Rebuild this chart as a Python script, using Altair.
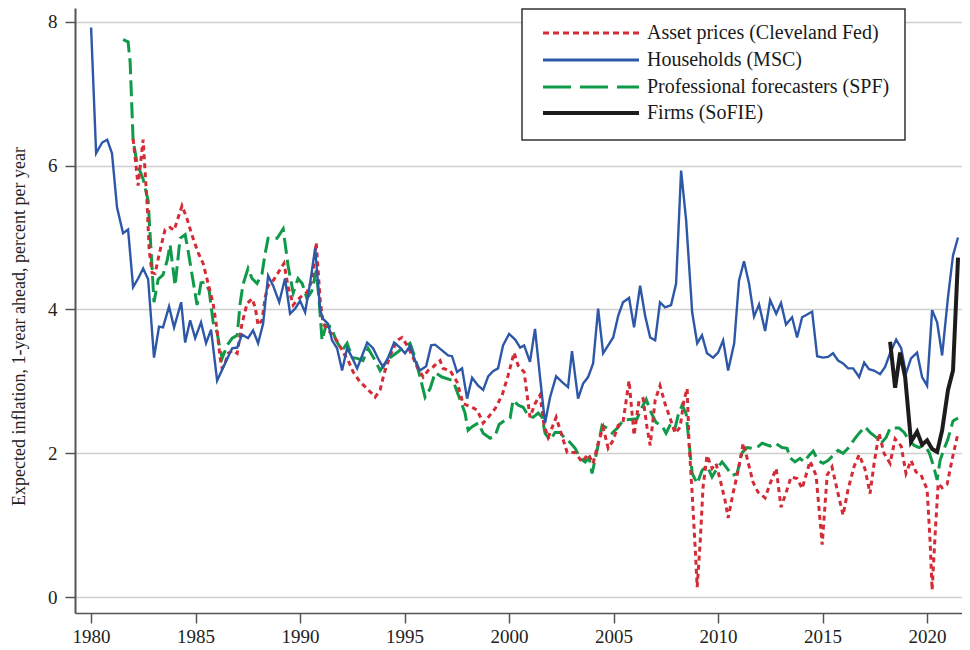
import altair as alt
import pandas as pd

# ---------------- data ----------------
hh_year = [1980.00, 1980.24, 1980.53, 1980.77, 1981.00, 1981.24, 1981.53, 1981.77, 1982.01, 1982.25,
           1982.49, 1982.73, 1983.01, 1983.25, 1983.44, 1983.73, 1983.97, 1984.31, 1984.50, 1984.74,
           1984.98, 1985.26, 1985.50, 1985.74, 1986.03, 1986.41, 1986.75, 1986.99, 1987.22, 1987.51,
           1987.75, 1987.99, 1988.23, 1988.47, 1988.71, 1989.00, 1989.28, 1989.52, 1989.76, 1990.00,
           1990.24, 1990.48, 1990.72, 1990.96, 1991.10, 1991.34, 1991.53, 1991.77, 1992.01, 1992.25,
           1992.49, 1992.73, 1992.97, 1993.21, 1993.49, 1993.78, 1993.97, 1994.21, 1994.50, 1994.78,
           1995.02, 1995.26, 1995.50, 1995.74, 1996.03, 1996.27, 1996.46, 1996.79, 1997.08, 1997.27,
           1997.51, 1997.75, 1997.99, 1998.23, 1998.52, 1998.76, 1999.00, 1999.23, 1999.47, 1999.71,
           2000.00, 2000.29, 2000.53, 2000.72, 2001.00, 2001.24, 2001.48, 2001.72, 2001.96, 2002.25,
           2002.54, 2002.82, 2003.01, 2003.30, 2003.54, 2003.78, 2004.02, 2004.26, 2004.50, 2004.74,
           2004.98, 2005.22, 2005.45, 2005.74, 2005.98, 2006.27, 2006.51, 2006.75, 2006.99, 2007.22,
           2007.46, 2007.75, 2007.99, 2008.23, 2008.47, 2008.76, 2009.00, 2009.23, 2009.47, 2009.76,
           2010.00, 2010.24, 2010.48, 2010.77, 2011.00, 2011.24, 2011.48, 2011.72, 2011.96, 2012.25,
           2012.49, 2012.78, 2013.01, 2013.25, 2013.54, 2013.78, 2014.02, 2014.26, 2014.50, 2014.74,
           2015.02, 2015.26, 2015.50, 2015.74, 2015.98, 2016.22, 2016.46, 2016.75, 2016.99, 2017.22,
           2017.46, 2017.75, 2017.99, 2018.23, 2018.52, 2018.76, 2018.99, 2019.23, 2019.52, 2019.76,
           2020.00, 2020.24, 2020.48, 2020.72, 2021.00, 2021.24, 2021.48]
hh_val = [7.92, 6.17, 6.32, 6.36, 6.17, 5.42, 5.06, 5.11, 4.31, 4.43,
          4.57, 4.42, 3.33, 3.76, 3.75, 4.04, 3.75, 4.10, 3.54, 3.85,
          3.60, 3.82, 3.53, 3.72, 3.01, 3.25, 3.46, 3.47, 3.65, 3.60,
          3.71, 3.53, 3.80, 4.47, 4.33, 4.10, 4.43, 3.94, 4.01, 4.12,
          3.96, 4.37, 4.85, 3.99, 3.87, 3.80, 3.57, 3.46, 3.15, 3.46,
          3.33, 3.18, 3.36, 3.54, 3.46, 3.29, 3.20, 3.33, 3.54, 3.47,
          3.39, 3.49, 3.29, 3.15, 3.21, 3.50, 3.51, 3.43, 3.36, 3.35,
          3.13, 3.18, 2.76, 3.05, 2.94, 2.88, 3.07, 3.14, 3.18, 3.50,
          3.66, 3.58, 3.47, 3.50, 3.27, 3.73, 3.06, 2.42, 2.78, 3.07,
          2.99, 2.92, 3.42, 2.76, 2.97, 3.06, 3.25, 4.01, 3.39, 3.50,
          3.61, 3.91, 4.10, 4.16, 3.75, 4.33, 3.91, 3.61, 3.57, 4.10,
          4.03, 4.06, 4.36, 5.93, 5.24, 3.96, 3.53, 3.64, 3.39, 3.33,
          3.40, 3.57, 3.15, 3.53, 4.40, 4.67, 4.36, 3.90, 4.07, 3.70,
          4.13, 3.94, 4.09, 3.79, 3.89, 3.61, 3.89, 3.93, 3.97, 3.35,
          3.33, 3.34, 3.39, 3.29, 3.25, 3.18, 3.18, 3.06, 3.26, 3.17,
          3.15, 3.10, 3.20, 3.39, 3.58, 3.46, 3.11, 3.32, 3.40, 3.06,
          2.94, 3.99, 3.82, 3.36, 4.17, 4.75, 5.00]

ap_year = [1982.01, 1982.25, 1982.49, 1982.68, 1982.78, 1982.92, 1983.06, 1983.30, 1983.54, 1983.78,
           1983.97, 1984.35, 1984.59, 1984.83, 1985.12, 1985.36, 1985.60, 1985.84, 1986.03, 1986.17,
           1986.27, 1986.41, 1986.56, 1986.79, 1986.99, 1987.22, 1987.46, 1987.70, 1987.85, 1987.99,
           1988.18, 1988.33, 1988.47, 1988.71, 1988.95, 1989.23, 1989.43, 1989.67, 1989.86, 1990.10,
           1990.33, 1990.57, 1990.77, 1990.96, 1991.10, 1991.34, 1991.58, 1991.82, 1992.06, 1992.30,
           1992.54, 1992.87, 1993.21, 1993.59, 1993.83, 1994.02, 1994.31, 1994.64, 1994.88, 1995.12,
           1995.36, 1995.60, 1995.89, 1996.12, 1996.36, 1996.70, 1996.84, 1997.18, 1997.51, 1997.80,
           1998.23, 1998.47, 1998.76, 1999.00, 1999.33, 1999.67, 1999.95, 2000.24, 2000.43, 2000.72,
           2001.00, 2001.24, 2001.48, 2001.67, 2001.87, 2002.06, 2002.25, 2002.49, 2002.78, 2003.16,
           2003.49, 2003.78, 2004.02, 2004.26, 2004.50, 2004.74, 2004.98, 2005.22, 2005.45, 2005.74,
           2005.98, 2006.22, 2006.41, 2006.60, 2006.75, 2006.99, 2007.22, 2007.46, 2007.70, 2007.94,
           2008.18, 2008.37, 2008.52, 2008.61, 2008.76, 2008.90, 2009.00, 2009.14, 2009.28, 2009.47,
           2009.71, 2009.90, 2010.10, 2010.33, 2010.48, 2010.72, 2010.96, 2011.20, 2011.39, 2011.67,
           2011.91, 2012.25, 2012.49, 2012.78, 2013.01, 2013.25, 2013.49, 2013.78, 2014.02, 2014.40,
           2014.69, 2014.98, 2015.22, 2015.45, 2015.74, 2015.98, 2016.22, 2016.51, 2016.75, 2017.03,
           2017.27, 2017.46, 2017.70, 2017.94, 2018.23, 2018.47, 2018.76, 2018.99, 2019.23, 2019.47,
           2019.71, 2020.00, 2020.14, 2020.24, 2020.38, 2020.53, 2020.72, 2020.96, 2021.20, 2021.48]
ap_val = [6.37, 5.72, 6.36, 5.47, 4.82, 4.51, 4.50, 4.82, 5.11, 5.14,
          5.10, 5.44, 5.26, 5.03, 4.79, 4.64, 4.36, 4.08, 3.71, 3.33,
          3.18, 3.25, 3.39, 3.43, 3.39, 3.80, 4.08, 4.15, 4.03, 3.78,
          3.85, 4.17, 4.33, 4.40, 4.51, 4.64, 4.31, 4.06, 4.13, 4.19,
          4.24, 4.40, 4.93, 4.13, 3.80, 3.71, 3.64, 3.54, 3.40, 3.29,
          3.13, 2.99, 2.90, 2.78, 2.88, 3.11, 3.36, 3.57, 3.61, 3.50,
          3.36, 3.20, 3.06, 3.15, 3.20, 3.29, 3.18, 3.15, 2.99, 2.69,
          2.64, 2.60, 2.42, 2.50, 2.62, 2.81, 3.08, 3.40, 3.22, 3.13,
          2.50, 2.69, 2.81, 2.39, 2.22, 2.36, 2.50, 2.28, 2.01, 2.01,
          1.88, 1.99, 1.86, 2.14, 2.36, 2.07, 2.18, 2.39, 2.43, 3.01,
          2.25, 2.74, 2.76, 2.36, 2.11, 2.74, 2.94, 2.69, 2.49, 2.28,
          2.36, 2.74, 2.90, 2.14, 1.44, 0.70, 0.14, 0.75, 1.53, 1.97,
          1.79, 1.86, 1.63, 1.35, 1.10, 1.45, 1.76, 2.14, 1.93, 1.60,
          1.46, 1.38, 1.58, 1.79, 1.25, 1.45, 1.67, 1.65, 1.51, 1.89,
          1.69, 0.73, 1.70, 1.81, 1.44, 1.14, 1.50, 1.82, 1.98, 1.78,
          1.44, 1.85, 2.28, 2.00, 1.86, 2.20, 2.10, 1.72, 1.90, 1.74,
          1.70, 1.50, 0.80, 0.10, 0.85, 1.58, 1.52, 1.57, 1.92, 2.28]

spf_year = [1981.53, 1981.77, 1981.87, 1982.01, 1982.20, 1982.49, 1982.73, 1982.92, 1983.01, 1983.21,
            1983.44, 1983.64, 1983.78, 1984.02, 1984.26, 1984.50, 1984.64, 1985.07, 1985.26, 1985.45,
            1985.65, 1985.84, 1986.03, 1986.12, 1986.27, 1986.51, 1986.75, 1986.99, 1987.13, 1987.27,
            1987.51, 1987.70, 1987.94, 1988.18, 1988.33, 1988.47, 1988.90, 1989.19, 1989.43, 1989.67,
            1989.90, 1990.10, 1990.33, 1990.57, 1990.77, 1990.91, 1991.05, 1991.24, 1991.48, 1991.72,
            1992.01, 1992.25, 1992.49, 1992.73, 1993.01, 1993.25, 1993.59, 1993.83, 1994.07, 1994.31,
            1994.64, 1994.93, 1995.26, 1995.50, 1995.74, 1995.98, 1996.22, 1996.46, 1996.79, 1997.32,
            1997.66, 1997.89, 1998.04, 1998.23, 1998.52, 1998.76, 1999.09, 1999.33, 1999.52, 1999.81,
            2000.05, 2000.19, 2000.43, 2000.67, 2000.91, 2001.15, 2001.39, 2001.58, 2001.72, 2001.96,
            2002.20, 2002.44, 2002.63, 2002.92, 2003.16, 2003.40, 2003.64, 2003.83, 2003.97, 2004.21,
            2004.45, 2004.69, 2004.93, 2005.22, 2005.45, 2005.79, 2006.12, 2006.36, 2006.56, 2006.79,
            2007.03, 2007.32, 2007.51, 2007.75, 2007.94, 2008.09, 2008.28, 2008.47, 2008.61, 2008.76,
            2009.00, 2009.23, 2009.47, 2009.71, 2009.95, 2010.19, 2010.43, 2010.67, 2010.91, 2011.15,
            2011.39, 2011.63, 2011.87, 2012.11, 2012.49, 2012.73, 2013.06, 2013.30, 2013.44, 2013.68,
            2013.92, 2014.11, 2014.35, 2014.55, 2014.78, 2015.02, 2015.26, 2015.50, 2015.74, 2015.98,
            2016.22, 2016.56, 2016.75, 2017.03, 2017.27, 2017.61, 2017.80, 2018.04, 2018.23, 2018.66,
            2018.90, 2019.14, 2019.38, 2019.62, 2019.86, 2020.10, 2020.29, 2020.48, 2020.62, 2020.81,
            2021.00, 2021.24, 2021.48]
spf_val = [7.75, 7.72, 7.43, 6.35, 6.03, 5.81, 5.51, 4.56, 4.10, 4.42,
           4.48, 4.68, 4.90, 4.33, 4.99, 5.04, 4.82, 4.06, 4.37, 4.38,
           4.26, 3.82, 3.68, 3.53, 3.32, 3.50, 3.60, 3.64, 4.08, 4.35,
           4.57, 4.43, 4.36, 4.50, 4.78, 4.99, 4.99, 5.12, 4.60, 4.23,
           4.43, 4.36, 4.15, 4.26, 4.54, 4.13, 3.57, 3.78, 3.76, 3.57,
           3.43, 3.53, 3.33, 3.32, 3.29, 3.46, 3.29, 3.15, 3.25, 3.33,
           3.40, 3.47, 3.53, 3.33, 3.06, 2.78, 2.90, 3.12, 3.06, 3.01,
           2.74, 2.56, 2.32, 2.37, 2.42, 2.28, 2.21, 2.24, 2.40, 2.46,
           2.49, 2.74, 2.67, 2.64, 2.53, 2.50, 2.56, 2.50, 2.28, 2.18,
           2.29, 2.29, 2.22, 2.15, 2.07, 1.93, 1.88, 1.94, 1.72, 2.04,
           2.39, 2.35, 2.28, 2.36, 2.46, 2.47, 2.48, 2.64, 2.75, 2.57,
           2.43, 2.38, 2.28, 2.42, 2.35, 2.53, 2.67, 2.55, 2.15, 1.72,
           1.58, 1.76, 1.83, 1.67, 1.79, 1.88, 1.79, 1.69, 1.72, 2.01,
           2.08, 2.07, 2.08, 2.14, 2.10, 2.14, 2.08, 2.07, 1.94, 1.88,
           1.93, 1.88, 1.97, 2.03, 1.90, 1.86, 1.90, 1.97, 2.04, 2.00,
           2.07, 2.21, 2.28, 2.37, 2.29, 2.21, 2.14, 2.22, 2.35, 2.35,
           2.29, 2.18, 2.11, 2.08, 2.12, 2.01, 1.84, 1.63, 1.90, 2.06,
           2.20, 2.45, 2.49]

firm_year = [2018.23, 2018.47, 2018.71, 2018.95, 2019.23, 2019.52, 2019.76, 2020.00, 2020.24, 2020.48,
             2020.72, 2021.00, 2021.24, 2021.48]
firm_val = [3.55, 2.91, 3.40, 3.06, 2.16, 2.30, 2.12, 2.18, 2.06, 2.02,
            2.32, 2.88, 3.15, 4.72]

series_names = ["Asset prices (Cleveland Fed)", "Households (MSC)",
                "Professional forecasters (SPF)", "Firms (SoFIE)"]
series_colors = ["#d42b36", "#2d58a8", "#0f9a4a", "#1e1b1c"]

x_ticks = [1980, 1985, 1990, 1995, 2000, 2005, 2010, 2015, 2020]
y_ticks = [0, 2, 4, 6, 8]

# ---------------- styling ----------------
FONT = "Liberation Serif"
widths = [3.0, 2.4, 3.0, 4.0]
dashes = [[5, 4], None, [16, 6], None]
legend_dashes = [[6, 4], None, [28, 9], None]

x_scale = alt.Scale(domain=[1979.23, 2021.67], nice=False, zero=False)
y_scale = alt.Scale(domain=[-0.22, 8.19], nice=False, zero=False)

x_enc = alt.X("year:Q", scale=x_scale,
              axis=alt.Axis(values=x_ticks, format="d", title=None, grid=False,
                            tickSize=10, labelPadding=4, domainColor="#555",
                            tickColor="#555", domainWidth=1.5, tickWidth=1.5))
y_enc = alt.Y("value:Q", scale=y_scale,
              axis=alt.Axis(values=y_ticks, format="d",
                            title="Expected inflation, 1-year ahead, percent per year",
                            grid=True, gridColor="#cfcfcf", gridWidth=1.5,
                            tickSize=10, labelPadding=8, domainColor="#555",
                            tickColor="#555", domainWidth=2, tickWidth=1.5,
                            titleAngle=270, titleX=-56, titleY=318,
                            titleAlign="center", titleBaseline="middle"))


def series_line(years, vals, idx):
    df = pd.DataFrame({"year": years, "value": vals})
    kw = dict(color=series_colors[idx], strokeWidth=widths[idx], clip=True)
    if dashes[idx] is not None:
        kw["strokeDash"] = dashes[idx]
    return alt.Chart(df).mark_line(**kw).encode(x=x_enc, y=y_enc)


lines = [
    series_line(spf_year, spf_val, 2),
    series_line(ap_year, ap_val, 0),
    series_line(hh_year, hh_val, 1),
    series_line(firm_year, firm_val, 3),
]

# ---------------- hand-built legend box ----------------
one = pd.DataFrame({"k": [0]})
legend_box = alt.Chart(one).mark_rect(fill="white", stroke="#333", strokeWidth=1.5).encode(
    x=alt.value(447), x2=alt.value(830), y=alt.value(1), y2=alt.value(132))

legend_rows = [25, 52, 79, 105]
legend_layers = [legend_box]
for i, name in enumerate(series_names):
    kw = dict(color=series_colors[i], strokeWidth=widths[i] if i != 1 else 3.0)
    if legend_dashes[i] is not None:
        kw["strokeDash"] = legend_dashes[i]
    legend_layers.append(
        alt.Chart(one).mark_rule(**kw).encode(
            x=alt.value(468), x2=alt.value(564), y=alt.value(legend_rows[i])))
    legend_layers.append(
        alt.Chart(one).mark_text(text=name, align="left", baseline="middle",
                                 font=FONT, fontSize=20, color="#1a1a1a").encode(
            x=alt.value(572), y=alt.value(legend_rows[i])))

chart = alt.layer(*lines, *legend_layers).properties(
    width=887, height=605,
    padding={"left": 67, "top": 0, "right": 0, "bottom": 33},
    autosize=alt.AutoSizeParams(type="none"),
).configure_view(stroke=None).configure_axis(
    labelFont=FONT, titleFont=FONT, labelFontSize=19, titleFontSize=18,
    labelColor="#222", titleColor="#222", titleFontWeight="normal",
)

chart.save("out.html", embed_options={"renderer": "svg", "actions": False})
